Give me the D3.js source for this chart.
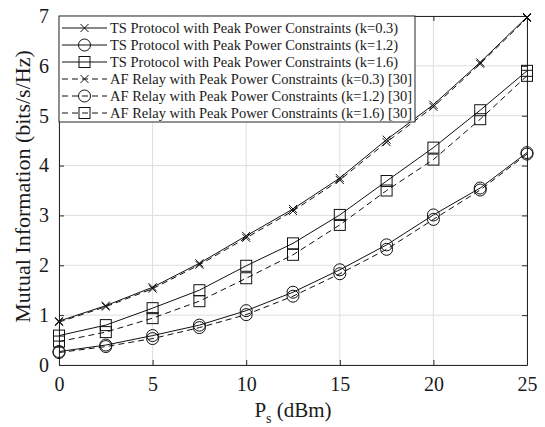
<!DOCTYPE html>
<html>
<head>
<meta charset="utf-8">
<script src="https://cdn.jsdelivr.net/npm/d3@7"></script>
<style>
  body { margin: 0; background: #fff; }
  text { font-family: "Liberation Serif", "Times New Roman", serif; fill: #1a1a1a; }
</style>
</head>
<body>
<div id="viz"></div>
<script>
const ps = [0, 2.5, 5, 7.5, 10, 12.5, 15, 17.5, 20, 22.5, 25];
const tsK03 = [0.88, 1.19, 1.56, 2.04, 2.59, 3.13, 3.75, 4.52, 5.22, 6.07, 6.98];
const tsK12 = [0.27, 0.40, 0.59, 0.80, 1.09, 1.46, 1.91, 2.41, 3.01, 3.55, 4.26];
const tsK16 = [0.59, 0.80, 1.14, 1.50, 1.99, 2.44, 3.01, 3.69, 4.36, 5.11, 5.90];
const afK03 = [0.86, 1.17, 1.53, 2.01, 2.55, 3.09, 3.71, 4.47, 5.18, 6.04, 6.96];
const afK12 = [0.25, 0.37, 0.53, 0.75, 1.01, 1.38, 1.83, 2.32, 2.92, 3.51, 4.23];
const afK16 = [0.47, 0.66, 0.94, 1.28, 1.74, 2.21, 2.81, 3.50, 4.12, 4.93, 5.80];
const xTicks = [0, 5, 10, 15, 20, 25];
const yTicks = [0, 1, 2, 3, 4, 5, 6, 7];

const series = [
  { name: 'TS Protocol with Peak Power Constraints (k=0.3)', values: tsK03, marker: 'x', dash: null },
  { name: 'TS Protocol with Peak Power Constraints (k=1.2)', values: tsK12, marker: 'o', dash: null },
  { name: 'TS Protocol with Peak Power Constraints (k=1.6)', values: tsK16, marker: 's', dash: null },
  { name: 'AF Relay with Peak Power Constraints (k=0.3) [30]', values: afK03, marker: 'x', dash: '6,4' },
  { name: 'AF Relay with Peak Power Constraints (k=1.2) [30]', values: afK12, marker: 'o', dash: '6,4' },
  { name: 'AF Relay with Peak Power Constraints (k=1.6) [30]', values: afK16, marker: 's', dash: '6,4' }
];

const W = 545, H = 427,
  margin = { top: 16, right: 18, bottom: 62, left: 59 },
  width = W - margin.left - margin.right,
  height = H - margin.top - margin.bottom;

const svg = d3.select('#viz').append('svg')
  .attr('width', W).attr('height', H);

const g = svg.append('g')
  .attr('transform', 'translate(' + margin.left + ',' + margin.top + ')');

const x = d3.scaleLinear().domain([0, 25]).range([0, width]);
const y = d3.scaleLinear().domain([0, 7]).range([height, 0]);

// grid
g.append('g').selectAll('line').data(xTicks).enter().append('line')
  .attr('x1', d => x(d)).attr('x2', d => x(d))
  .attr('y1', 0).attr('y2', height)
  .attr('stroke', '#dedede').attr('stroke-width', 1);
g.append('g').selectAll('line').data(yTicks).enter().append('line')
  .attr('x1', 0).attr('x2', width)
  .attr('y1', d => y(d)).attr('y2', d => y(d))
  .attr('stroke', '#dedede').attr('stroke-width', 1);

// axes (ticks inward)
const fmt = d3.format('d');
const xAxis = d3.axisBottom(x).tickValues(xTicks).tickFormat(fmt).tickSizeInner(-5).tickSizeOuter(0).tickPadding(12);
const yAxis = d3.axisLeft(y).tickValues(yTicks).tickFormat(fmt).tickSizeInner(-5).tickSizeOuter(0).tickPadding(10);
const xg = g.append('g').attr('transform', 'translate(0,' + height + ')').call(xAxis);
const yg = g.append('g').call(yAxis);
const xTop = g.append('g').call(d3.axisTop(x).tickValues(xTicks).tickSizeInner(-5).tickSizeOuter(0).tickFormat(''));
const yRight = g.append('g').attr('transform', 'translate(' + width + ',0)')
  .call(d3.axisRight(y).tickValues(yTicks).tickSizeInner(-5).tickSizeOuter(0).tickFormat(''));
[xg, yg, xTop, yRight].forEach(a => {
  a.selectAll('path, line').attr('stroke', '#262626');
  a.selectAll('text').style('font-size', '20px').style('font-family', '"Liberation Serif", serif').attr('fill', '#1a1a1a');
});

// lines
const line = d3.line().x((d, i) => x(ps[i])).y(d => y(d));

function drawMarker(sel, type) {
  let m;
  if (type === 'x') {
    m = sel.append('path').attr('d', 'M-4,-4L4,4M-4,4L4,-4');
  } else if (type === 'o') {
    m = sel.append('circle').attr('r', 6);
  } else {
    m = sel.append('rect').attr('x', -5.5).attr('y', -5.5).attr('width', 11).attr('height', 11);
  }
  m.attr('fill', 'none').attr('stroke', '#111').attr('stroke-width', 1);
}

series.forEach(s => {
  g.append('path').datum(s.values)
    .attr('d', line)
    .attr('fill', 'none')
    .attr('stroke', '#111')
    .attr('stroke-width', 1)
    .attr('stroke-dasharray', s.dash);
  g.append('g').selectAll('g').data(s.values).enter().append('g')
    .attr('transform', (d, i) => 'translate(' + x(ps[i]) + ',' + y(d) + ')')
    .each(function () { drawMarker(d3.select(this), s.marker); });
});

// legend
const legend = g.append('g');
legend.append('rect')
  .attr('x', 0).attr('y', 0).attr('width', 356).attr('height', 106)
  .attr('fill', '#fff').attr('stroke', '#262626').attr('stroke-width', 1);
series.forEach((s, i) => {
  const ly = 12 + i * 17;
  const row = legend.append('g').attr('transform', 'translate(0,' + ly + ')');
  row.append('line').attr('x1', 3).attr('x2', 48).attr('y1', 0).attr('y2', 0)
    .attr('stroke', '#111').attr('stroke-width', 1).attr('stroke-dasharray', s.dash);
  const m = row.append('g').attr('transform', 'translate(25.5,0)');
  drawMarker(m, s.marker);
  row.append('text').attr('x', 51).attr('y', 5)
    .style('font-size', '14.5px').text(s.name);
});

// axis labels
svg.append('text')
  .attr('transform', 'translate(30,' + (margin.top + height / 2 - 4) + ') rotate(-90)')
  .attr('text-anchor', 'middle')
  .style('font-size', '22px')
  .text('Mutual Information (bits/s/Hz)');

const xl = svg.append('text')
  .attr('x', margin.left + width / 2).attr('y', 417)
  .attr('text-anchor', 'middle')
  .style('font-size', '21px');
xl.append('tspan').text('P');
xl.append('tspan').attr('dy', 6).style('font-size', '14px').text('s');
xl.append('tspan').attr('dy', -6).text(' (dBm)');
</script>
</body>
</html>
